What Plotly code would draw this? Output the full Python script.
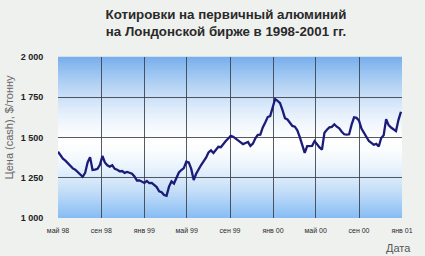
import plotly.graph_objects as go
import pandas as pd

# Weekly LME primary aluminium cash prices, $/t
start_date = "1998-05-01"
prices = [
    1412, 1390, 1368, 1356, 1340, 1330, 1308, 1300, 1287, 1272,
    1256, 1280, 1345, 1378, 1298, 1300, 1305, 1330, 1385, 1345,
    1327, 1319, 1327, 1305, 1300, 1290, 1292, 1280, 1286, 1281,
    1275, 1258, 1233, 1234, 1225, 1218, 1230, 1217, 1218, 1204,
    1192, 1166, 1160, 1143, 1138, 1195, 1227, 1214, 1245, 1283,
    1298, 1310, 1350, 1345, 1305, 1236, 1275, 1305, 1329, 1352,
    1375, 1407, 1420, 1404, 1425, 1442, 1440, 1462, 1478, 1494,
    1510, 1505, 1493, 1478, 1470, 1459, 1466, 1472, 1448, 1462,
    1495, 1517, 1518, 1563, 1593, 1627, 1633, 1690, 1739, 1728,
    1713, 1670, 1620, 1612, 1588, 1572, 1567, 1545, 1502, 1455,
    1405, 1447, 1446, 1448, 1478, 1455, 1438, 1425, 1530, 1548,
    1563, 1566, 1582, 1567, 1557, 1536, 1520, 1518, 1520, 1580,
    1625, 1622, 1605, 1555, 1530, 1512, 1478, 1467, 1455, 1460,
    1444, 1497, 1514, 1614, 1577, 1562, 1548, 1540, 1610, 1660,
]
dates = pd.date_range(start_date, periods=len(prices), freq="7D")

tick_dates = ["1998-05-01", "1998-09-01", "1999-01-01", "1999-05-01", "1999-09-01",
              "2000-01-01", "2000-05-01", "2000-09-01", "2001-01-01"]
tick_labels = ["май 98", "сен 98", "янв 99", "май 99", "сен 99",
               "янв 00", "май 00", "сен 00", "янв 01"]
y_ticks = [1000, 1250, 1500, 1750, 2000]
y_tick_labels = ["1 000", "1 250", "1 500", "1 750", "2 000"]

title_text = "Котировки на первичный алюминий<br>на Лондонской бирже в 1998-2001 гг."
y_title = "Цена (cash), $/тонну"
x_title = "Дата"

W, H = 425, 256
L, R, T, B = 58, 13, 57, 38
pw, ph = W - L - R, H - T - B

fig = go.Figure()
fig.add_trace(go.Scatter(
    x=dates, y=prices, mode="lines",
    line=dict(color="#1b1b78", width=2.3),
    hoverinfo="skip",
))

# vertical gradient background: blue top -> white (~47%) -> blue bottom
def lerp(c1, c2, t):
    return tuple(round(a + (b - a) * t) for a, b in zip(c1, c2))

top_c = (118, 174, 236)
mid_c = (255, 255, 255)
bot_c = (134, 188, 243)
mid_pos = 0.47  # from bottom
n = 80
shapes = []
for i in range(n):
    y0 = i / n
    y1 = (i + 1) / n
    yc = (y0 + y1) / 2
    if yc < mid_pos:
        t = (mid_pos - yc) / mid_pos
        c = lerp(mid_c, bot_c, t ** 1.5)
    else:
        t = (yc - mid_pos) / (1 - mid_pos)
        c = lerp(mid_c, top_c, t ** 1.5)
    shapes.append(dict(type="rect", xref="x domain", yref="y domain",
                       x0=0, x1=1, y0=y0, y1=y1 + 0.002, layer="below",
                       line=dict(width=0), fillcolor="rgb(%d,%d,%d)" % c))

fig.update_layout(
    width=W, height=H,
    margin=dict(l=L, r=R, t=T, b=B, pad=0),
    paper_bgcolor="#eff1ef",
    plot_bgcolor="#eff1ef",
    showlegend=False,
    shapes=shapes,
    font=dict(family="Liberation Sans, Arial, sans-serif", color="#333"),
    title=dict(text=title_text, x=226 / W, xanchor="center", xref="container",
               y=1 - 19 / H, yanchor="middle", yref="container",
               font=dict(size=13.3, color="#2a2a2a", weight="bold")),
    xaxis=dict(
        type="date", range=["1998-05-01", "2001-01-01"],
        tickvals=tick_dates, ticktext=tick_labels,
        showgrid=True, gridcolor="rgba(55,60,70,0.85)", gridwidth=1,
        ticks="outside", ticklen=6, tickcolor="rgba(0,0,0,0)",
        tickfont=dict(size=7, color="#2a2a2a"),
        zeroline=False, showline=False, fixedrange=True,
    ),
    yaxis=dict(
        range=[1000, 2000], tickvals=y_ticks, ticktext=y_tick_labels,
        showgrid=True, gridcolor="rgba(55,60,70,0.85)", gridwidth=1,
        ticks="outside", ticklen=12, tickcolor="rgba(0,0,0,0)",
        tickfont=dict(size=9, color="#222", weight="bold"),
        zeroline=False, showline=False, fixedrange=True,
    ),
    annotations=[
        dict(text=y_title, xref="paper", yref="paper",
             x=(8 - L) / pw, y=(H - B - 127) / ph, textangle=-90,
             showarrow=False, xanchor="center", yanchor="middle",
             font=dict(size=11, color="#666")),
        dict(text=x_title, xref="paper", yref="paper",
             x=(423 - L) / pw, y=(H - B - 248) / ph,
             showarrow=False, xanchor="right", yanchor="middle",
             font=dict(size=11, color="#555")),
    ],
)

fig.write_html("out.html")
